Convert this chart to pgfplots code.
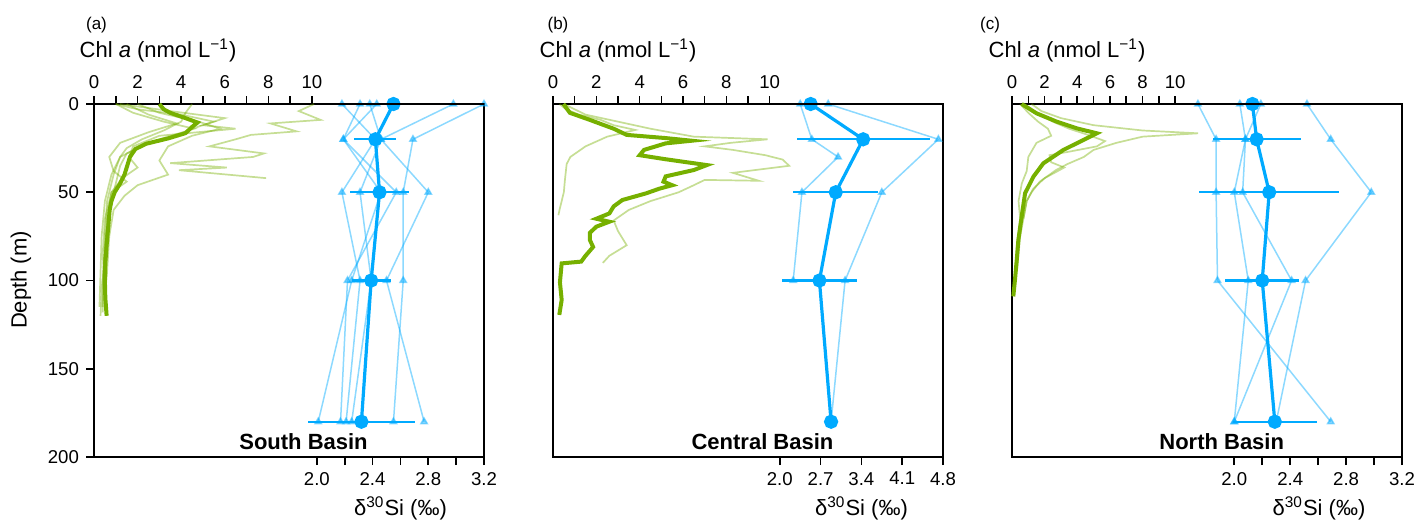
\documentclass[border=0pt]{standalone}
\usepackage{fontspec}
\setmainfont{Liberation Sans}
\usepackage{pgfplots}
\pgfplotsset{compat=1.18}

\definecolor{chlgreen}{RGB}{118,176,0}
\definecolor{siblue}{RGB}{0,170,255}

\pgfplotsset{
  panel/.style={width=195pt, height=176.5pt, scale only axis, anchor=north west,
    ymin=0, ymax=200, y dir=reverse, clip=false,
    tick align=outside, major tick length=4pt, minor tick length=4pt,
    tick style={black, line width=0.8pt},
    tick label style={font=\fontsize{9.3}{11}\selectfont}},
  siaxis/.style={panel, axis line style={line width=1pt},
    xtick pos=left, ytick pos=left,
    ytick={0,50,100,150,200}, yticklabels={0,50,100,150,200}},
  chlaxis/.style={panel, axis x line*=top, axis y line=none,
    x axis line style={-, line width=1pt},
    xmin=0, xtick={0,1,2,3,4,5,6,7,8,9,10}, xticklabels={0,,2,,4,,6,,8,,10}},
  chlmean/.style={chlgreen, line width=2pt, no marks},
  chlcast/.style={chlgreen, opacity=0.42, line width=0.85pt, no marks},
  simean/.style={siblue, line width=1.6pt, mark=*, mark size=2.75pt,
    error bars/x dir=both, error bars/x explicit, error bars/error mark=none,
    error bars/error bar style={line width=1.1pt}},
  sicast/.style={siblue, opacity=0.45, line width=0.75pt, mark=triangle*, mark size=1.8pt},
}

\begin{document}
\begin{tikzpicture}
\path[use as bounding box] (0,0) rectangle (708.5pt,-260.5pt);

% ---------------- (a) South Basin ----------------
\begin{axis}[siaxis, at={(47pt,-52pt)}, xmin=0.4, xmax=3.2,
  xtick={2.0,2.2,2.4,2.6,2.8,3.0,3.2}, xticklabels={2.0,,2.4,,2.8,,3.2}]
\addplot[sicast] coordinates {(3.20,0) (2.69,20) (2.62,50) (2.62,100) (2.55,180)};
\addplot[sicast] coordinates {(2.98,0) (2.46,20) (2.80,50) (2.50,100) (2.77,180)};
\addplot[sicast] coordinates {(2.18,0) (2.42,20) (2.18,50) (2.31,100) (2.21,180)};
\addplot[sicast] coordinates {(2.31,0) (2.19,20) (2.46,50) (2.25,100) (2.01,180)};
\addplot[sicast] coordinates {(2.38,0) (2.46,20) (2.31,50) (2.39,100) (2.25,180)};
\addplot[sicast] coordinates {(2.43,0) (2.19,20) (2.57,50) (2.22,100) (2.17,180)};
\addplot[simean] coordinates {(2.55,0) +- (0.35,0) (2.42,20) +- (0.15,0)
  (2.45,50) +- (0.21,0) (2.39,100) +- (0.14,0) (2.32,180) +- (0.385,0)};
\end{axis}
\begin{axis}[chlaxis, at={(47pt,-52pt)}, xmax=17.9]
\addplot[chlcast] coordinates {(10.1,0) (9.4,4) (10.4,9) (8.1,11) (9.3,15.5) (7.2,17.5)
  (6.5,20) (5.3,24) (7.8,28) (7.3,30) (3.5,33.5) (6.1,36) (3.9,37.5) (7.9,42)};
\addplot[chlcast] coordinates {(1.0,0) (2.0,3) (4.0,6) (5.5,10) (4.5,14) (3.8,18) (2.5,22)
  (1.5,28) (1.2,35) (1.0,45) (0.7,60) (0.5,80) (0.4,100) (0.4,118)};
\addplot[chlcast] coordinates {(1.2,0) (3.5,4) (6.0,8) (5.0,12) (6.5,14) (3.0,18) (1.8,24)
  (1.6,30) (2.0,36) (1.3,42) (0.8,50) (0.6,65) (0.5,85) (0.35,105) (0.3,120)};
\addplot[chlcast] coordinates {(4.5,0) (4.2,5) (4.0,10) (3.2,15) (2.2,20) (1.5,25) (1.2,30)
  (0.9,40) (0.6,55) (0.5,75) (0.45,95) (0.4,115)};
\addplot[chlcast] coordinates {(1.0,0) (1.8,5) (3.2,10) (4.6,14) (3.0,20) (2.0,25) (1.2,30)
  (0.8,40) (0.5,55) (0.35,75) (0.3,95) (0.25,115)};
\addplot[chlcast] coordinates {(2.0,0) (3.0,5) (4.8,10) (5.8,14) (4.5,18) (3.4,24) (3.0,32)
  (3.4,40) (2.0,46) (1.4,52) (0.9,60) (0.7,75) (0.6,95) (0.5,110)};
\addplot[chlcast] coordinates {(1.5,0) (2.5,6) (3.8,11) (2.5,16) (1.2,22) (0.7,30) (0.9,38)
  (1.5,44) (0.8,50) (0.5,65) (0.4,85) (0.5,105) (0.55,118)};
\addplot[chlmean] coordinates {(3.0,0) (3.2,3) (3.5,5) (4.2,8) (4.75,10.5) (4.5,13) (4.2,16.5)
  (3.4,19.5) (2.4,22.5) (1.9,25.5) (1.65,30) (1.5,36) (1.4,40) (1.2,45) (0.95,50)
  (0.8,55) (0.72,60) (0.65,70) (0.58,80) (0.52,90) (0.5,100) (0.52,110) (0.58,120)};
\end{axis}

% ---------------- (b) Central Basin ----------------
\begin{axis}[siaxis, at={(276.5pt,-52pt)}, xmin=-1.89, xmax=4.8,
  xtick={2.0,2.7,3.4,4.1,4.8}, xticklabels={2.0,2.7,3.4,4.1,4.8}, ytick=\empty]
\addplot[sicast] coordinates {(2.83,0) (4.72,20) (3.75,50) (3.12,100) (2.88,180)};
\addplot[sicast] coordinates {(2.35,0) (2.55,20) (3.0,30) (2.38,50) (2.23,100)};
\addplot[simean] coordinates {(2.53,0) +- (0.29,0) (3.43,20) +- (1.14,0)
  (2.96,50) +- (0.73,0) (2.68,100) +- (0.64,0) (2.88,180) +- (0,0)};
\end{axis}
\begin{axis}[chlaxis, at={(276.5pt,-52pt)}, xmax=18]
\addplot[chlcast] coordinates {(0.3,0) (0.6,3) (1.2,6) (2.2,9) (2.8,12) (3.8,14.7) (2.5,18.5)
  (1.5,24) (0.8,30) (0.63,34) (0.55,43) (0.5,50) (0.4,55) (0.3,60) (0.25,63)};
\addplot[chlcast] coordinates {(0.5,0) (1.5,6) (3.0,10) (4.5,14) (6.5,18.5) (9.9,20) (8.2,22)
  (7.0,24) (8.3,26) (9.8,29) (10.6,31.5) (10.9,35) (8.3,39) (9.5,43.5) (7.0,43) (6.5,46)
  (5.8,50) (4.5,55) (3.5,60) (2.8,66) (3.0,72) (3.4,80) (2.6,86) (2.3,90)};
\addplot[chlmean] coordinates {(0.48,0) (0.78,5) (1.7,9) (2.8,14) (3.4,17.5) (5.2,19.3)
  (6.4,20.8) (5.2,22.3) (4.2,26) (4.0,29) (5.2,31.3) (7.1,34.6) (6.5,37.4) (5.2,41)
  (5.1,44) (5.5,46) (4.9,48) (4.3,50.6) (3.2,54.4) (2.8,58) (2.6,62) (2.0,65) (2.6,66.7)
  (2.0,69.5) (1.7,73) (1.7,77) (1.85,81) (1.5,86) (1.3,89.3) (0.4,90.3) (0.32,101)
  (0.4,111) (0.29,119.5)};
\end{axis}

% ---------------- (c) North Basin ----------------
\begin{axis}[siaxis, at={(506pt,-52pt)}, xmin=0.41, xmax=3.2,
  xtick={2.0,2.2,2.4,2.6,2.8,3.0,3.2}, xticklabels={2.0,,2.4,,2.8,,3.2}, ytick=\empty]
\addplot[sicast] coordinates {(2.52,0) (2.69,20) (2.98,50) (2.51,100) (2.30,180)};
\addplot[sicast] coordinates {(1.74,0) (1.87,20) (1.87,50) (1.88,100) (2.69,180)};
\addplot[sicast] coordinates {(2.04,0) (2.08,20) (2.00,50) (2.10,100) (2.00,180)};
\addplot[sicast] coordinates {(2.19,0) (2.08,20) (2.06,50) (2.41,100) (2.00,180)};
\addplot[simean] coordinates {(2.13,0) +- (0.335,0) (2.16,20) +- (0.315,0)
  (2.25,50) +- (0.5,0) (2.20,100) +- (0.265,0) (2.29,180) +- (0.3,0)};
\end{axis}
\begin{axis}[chlaxis, at={(506pt,-52pt)}, xmax=23.9]
\addplot[chlcast] coordinates {(1.2,0) (1.8,4) (3.0,8) (5.0,12) (8.0,15) (11.4,16.6) (8.0,18.5)
  (6.4,22) (5.0,26) (4.4,30) (3.4,34) (2.7,37.4) (1.7,44) (1.2,50) (0.9,55) (0.7,65)};
\addplot[chlcast] coordinates {(0.8,0) (1.3,4) (2.5,10) (3.5,14) (4.5,17) (5.7,21) (5.2,24)
  (3.5,27) (2.3,29) (2.4,33) (3.2,36) (2.0,42) (1.3,48) (0.9,55) (0.7,65) (0.5,75)
  (0.4,85) (0.3,95)};
\addplot[chlcast] coordinates {(0.5,0) (1.0,5) (1.6,10) (2.2,14) (2.4,18) (1.5,22) (1.0,30)
  (0.9,38) (0.6,45) (0.4,55) (0.5,65) (0.3,80) (0.2,95) (0.15,105)};
\addplot[chlmean] coordinates {(0.59,0) (1.51,5.3) (2.74,10) (3.97,13.8) (5.2,16.6) (4.37,20.4)
  (3.15,26) (1.92,33.6) (1.31,41.2) (0.8,50.6) (0.59,63.8) (0.39,77) (0.29,88.4)
  (0.18,99.7) (0.08,109)};
\end{axis}

% ---------------- texts ----------------
\begin{scope}[every node/.style={inner sep=0pt}]
\node[font=\fontsize{8.5}{10}\selectfont] at (48.25pt,-12.5pt) {(a)};
\node[font=\fontsize{8.5}{10}\selectfont] at (279pt,-12.5pt) {(b)};
\node[font=\fontsize{8.5}{10}\selectfont] at (495pt,-12.5pt) {(c)};
\foreach \cx in {79,309,533.5}
  \node[font=\fontsize{11}{13}\selectfont] at (\cx pt,-25pt) {Chl \textit{a} (nmol L\textsuperscript{−1})};
\foreach \cx in {200.25,430.75,659.5}
  \node[font=\fontsize{11}{13}\selectfont] at (\cx pt,-254pt) {δ\textsuperscript{30}Si (‰)};
\node[font=\fontsize{11}{13}\selectfont, rotate=90] at (10.5pt,-140pt) {Depth (m)};
\node[font=\fontsize{11}{13}\selectfont\bfseries] at (151.75pt,-220.85pt) {South Basin};
\node[font=\fontsize{11}{13}\selectfont\bfseries] at (381.25pt,-220.85pt) {Central Basin};
\node[font=\fontsize{11}{13}\selectfont\bfseries] at (610.85pt,-220.85pt) {North Basin};
\end{scope}
\end{tikzpicture}
\end{document}
